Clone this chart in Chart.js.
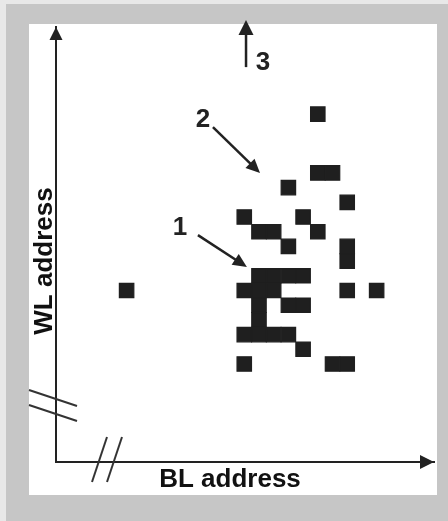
<!DOCTYPE html>
<html>
<head>
<meta charset="utf-8">
<script src="https://cdn.jsdelivr.net/npm/chart.js@4"></script>
<style>
  html, body { margin: 0; padding: 0; background: #fff; }
  #wrap { width: 448px; height: 521px; }
</style>
</head>
<body>
<div id="wrap"><canvas id="bitmap"></canvas></div>
<script>
// fail bit map: BL (column) and WL (row) index of every failing cell
const blAddress = [18, 18, 19, 16, 20, 13, 17, 14, 15, 18, 16, 20, 20, 14, 15, 16, 17, 5, 13, 14, 15, 20, 22, 14, 16, 17, 14, 13, 14, 15, 16, 17, 13, 19, 20];
const wlAddress = [24, 20, 20, 19, 18, 17, 17, 16, 16, 16, 15, 15, 14, 13, 13, 13, 13, 12, 12, 12, 12, 12, 12, 11, 11, 11, 10, 9, 9, 9, 9, 8, 7, 7, 7];

const blRange = [0.2, 25.9];
const wlRange = [0.33, 29.93];

const axisTitles = ['BL address', 'WL address'];

// callouts 1, 2, 3 (in BL / WL units)
const markerLabels = ['1', '2', '3'];
const labelBL = [8.63, 10.19, 14.27];
const labelWL = [16.32, 23.66, 27.54];
const arrowFromBL = [9.85, 10.87, 13.12];
const arrowFromWL = [15.77, 23.12, 27.2];
const arrowToBL = [13.18, 14.07, 13.12];
const arrowToWL = [13.6, 19.99, 30.4];

const INK = '#222';
const FONT = 'bold 26px "Liberation Sans", Arial, sans-serif';

function arrow(ctx, x1, y1, x2, y2, len, half, lw) {
  const a = Math.atan2(y2 - y1, x2 - x1);
  const bx = x2 - Math.cos(a) * len, by = y2 - Math.sin(a) * len;
  ctx.lineWidth = lw;
  ctx.beginPath();
  ctx.moveTo(x1, y1);
  ctx.lineTo(bx + Math.cos(a) * 2, by + Math.sin(a) * 2);
  ctx.stroke();
  ctx.beginPath();
  ctx.moveTo(x2, y2);
  ctx.lineTo(bx - Math.sin(a) * half, by + Math.cos(a) * half);
  ctx.lineTo(bx + Math.sin(a) * half, by - Math.cos(a) * half);
  ctx.closePath();
  ctx.fill();
}

const paperPlugin = {
  id: 'paper',
  beforeDraw(chart) {
    const {ctx, width, height} = chart;
    ctx.save();
    ctx.fillStyle = '#e8e8e8';
    ctx.fillRect(0, 0, width, height);
    ctx.fillStyle = '#c6c6c6';
    ctx.fillRect(6, 4, width - 6, height - 4);
    ctx.fillStyle = '#fff';
    ctx.fillRect(29, 24, 408, 471);
    ctx.restore();
  },
  afterDraw(chart) {
    const {ctx, chartArea: ca, scales: {x, y}} = chart;
    ctx.save();
    ctx.strokeStyle = INK;
    ctx.fillStyle = INK;
    ctx.lineCap = 'butt';

    // axis arrow heads
    ctx.beginPath();
    ctx.moveTo(ca.left, ca.top);
    ctx.lineTo(ca.left - 6.5, ca.top + 13);
    ctx.lineTo(ca.left + 6.5, ca.top + 13);
    ctx.closePath();
    ctx.fill();
    ctx.beginPath();
    ctx.moveTo(ca.right, ca.bottom);
    ctx.lineTo(ca.right - 14, ca.bottom - 7);
    ctx.lineTo(ca.right - 14, ca.bottom + 7);
    ctx.closePath();
    ctx.fill();

    // axis break marks
    ctx.lineWidth = 2;
    ctx.strokeStyle = '#333';
    [72, 57].forEach(d => {
      ctx.beginPath();
      ctx.moveTo(ca.left - 27, ca.bottom - d);
      ctx.lineTo(ca.left + 21, ca.bottom - d + 16);
      ctx.stroke();
    });
    [36, 51].forEach(d => {
      ctx.beginPath();
      ctx.moveTo(ca.left + d, ca.bottom + 20);
      ctx.lineTo(ca.left + d + 15, ca.bottom - 25);
      ctx.stroke();
    });

    // callout arrows and numbers
    ctx.strokeStyle = INK;
    markerLabels.forEach((t, i) => {
      const big = i === 2;
      arrow(ctx,
        x.getPixelForValue(arrowFromBL[i]), y.getPixelForValue(arrowFromWL[i]),
        x.getPixelForValue(arrowToBL[i]), y.getPixelForValue(arrowToWL[i]),
        big ? 15 : 14, big ? 7.5 : 6.5, 2.5);
    });
    ctx.font = FONT;
    ctx.textAlign = 'center';
    ctx.textBaseline = 'middle';
    markerLabels.forEach((t, i) => {
      ctx.fillText(t, x.getPixelForValue(labelBL[i]), y.getPixelForValue(labelWL[i]) + 1);
    });

    // axis titles
    ctx.fillStyle = '#111';
    ctx.fillText(axisTitles[0], 230, 480);
    ctx.save();
    ctx.translate(44, 261);
    ctx.rotate(-Math.PI / 2);
    ctx.fillText(axisTitles[1], 0, 1);
    ctx.restore();
    ctx.restore();
  }
};

const points = blAddress.map((b, i) => ({x: b, y: wlAddress[i]}));

new Chart(document.getElementById('bitmap'), {
  type: 'scatter',
  data: {
    datasets: [{
      label: 'fail bits',
      data: points,
      pointStyle: 'rect',
      pointRadius: 10.2,
      pointHoverRadius: 10.2,
      pointBorderWidth: 1.2,
      backgroundColor: '#1f1f1f',
      borderColor: '#1f1f1f'
    }]
  },
  options: {
    responsive: true,
    maintainAspectRatio: false,
    animation: false,
    events: [],
    layout: { padding: { left: 56, top: 27, right: 14, bottom: 59 } },
    plugins: { legend: { display: false }, tooltip: { enabled: false } },
    scales: {
      x: {
        type: 'linear', min: blRange[0], max: blRange[1],
        ticks: { display: false },
        grid: { display: false, drawTicks: false },
        border: { display: true, color: INK, width: 2 }
      },
      y: {
        type: 'linear', min: wlRange[0], max: wlRange[1],
        ticks: { display: false },
        grid: { display: false, drawTicks: false },
        border: { display: true, color: INK, width: 2 }
      }
    }
  },
  plugins: [paperPlugin]
});
</script>
</body>
</html>
